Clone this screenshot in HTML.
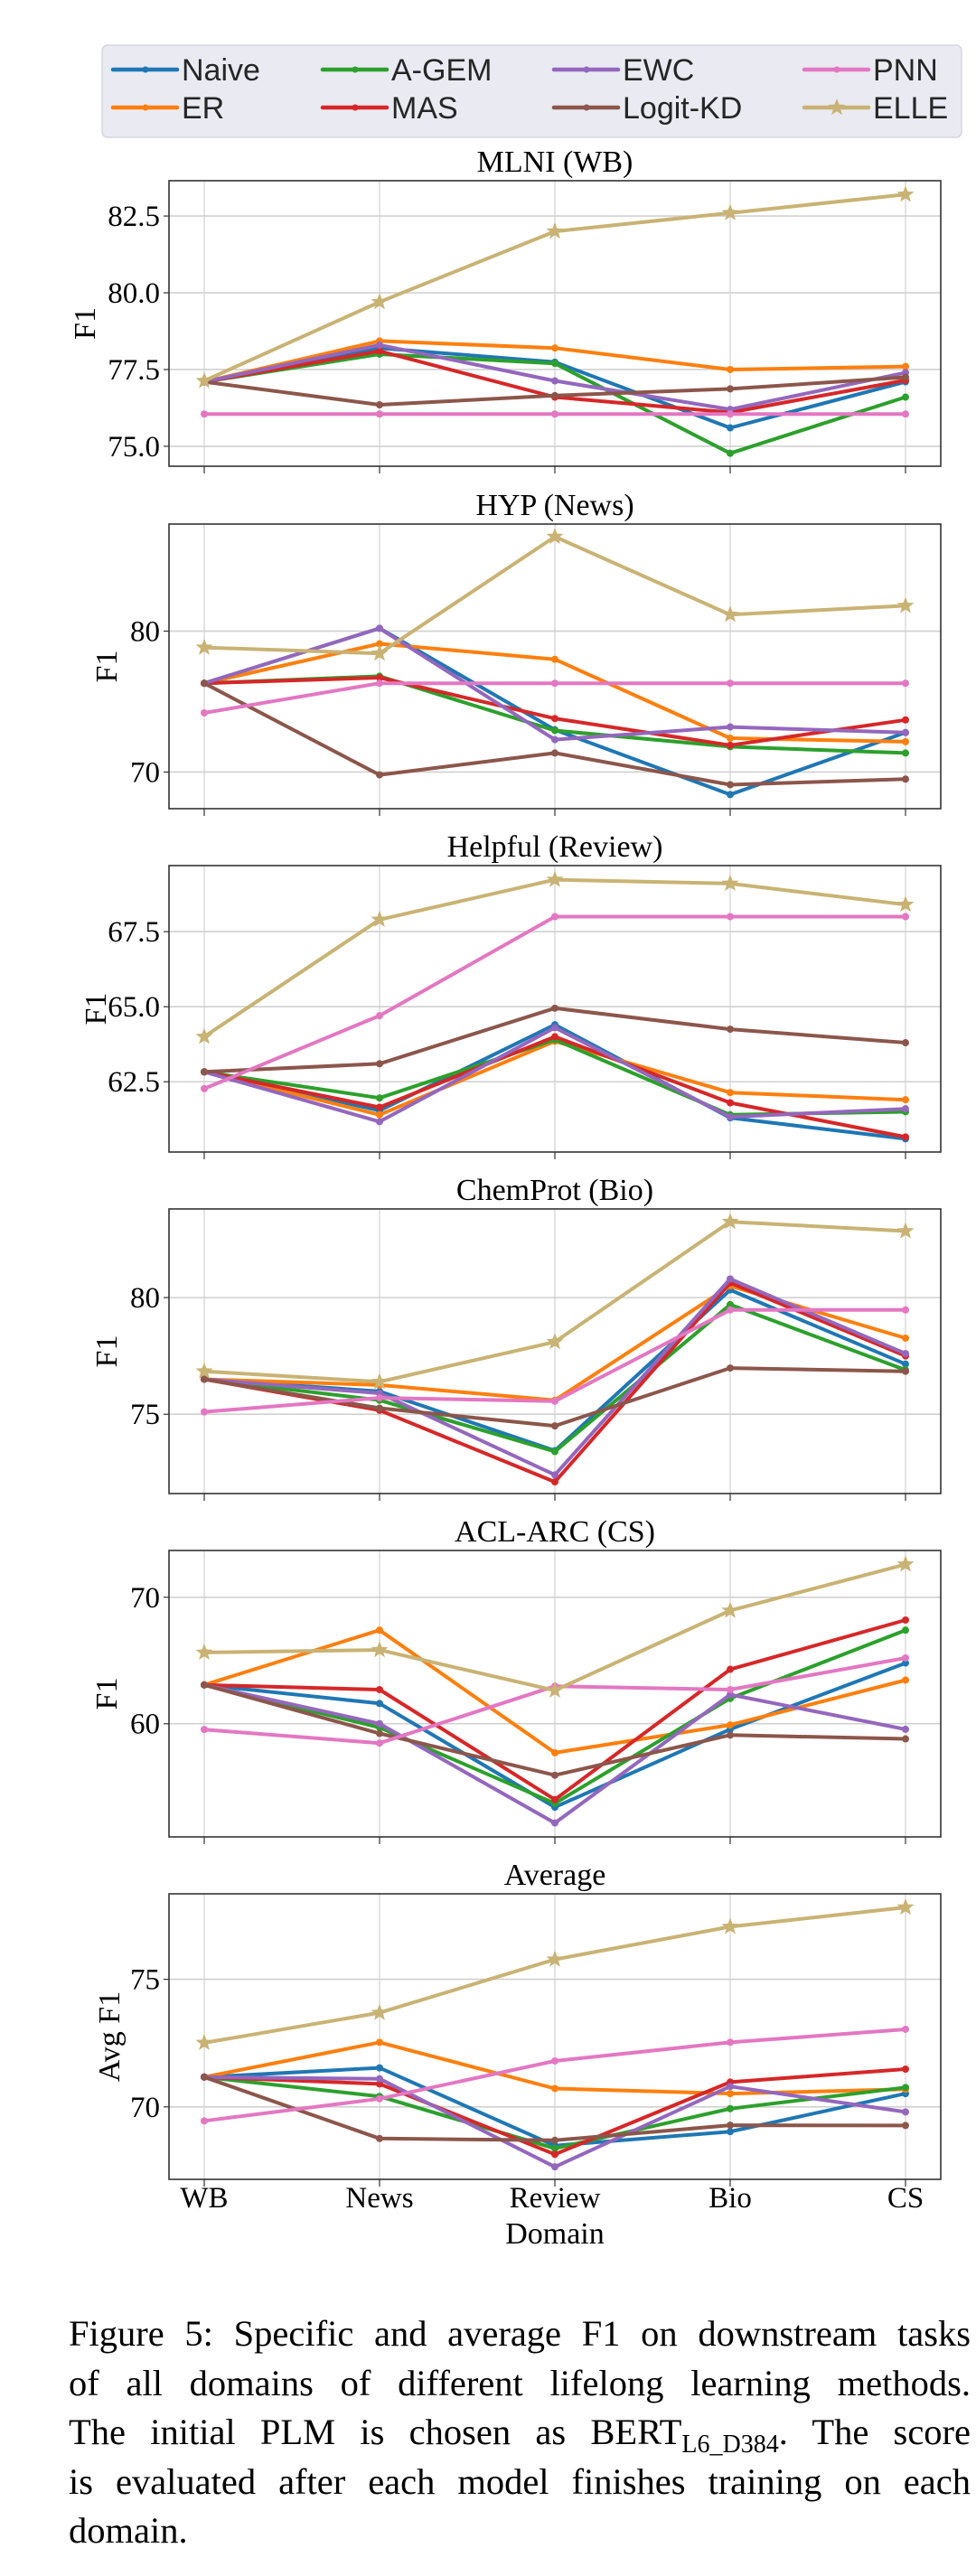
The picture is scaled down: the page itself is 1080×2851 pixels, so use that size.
<!DOCTYPE html>
<html><head><meta charset="utf-8">
<style>
html,body{margin:0;padding:0;background:#fff;}
body{width:1080px;height:2851px;position:relative;overflow:hidden;}
svg{position:absolute;left:0;top:0;}
#caption{position:absolute;left:76px;top:2556px;width:998px;font-family:"Liberation Serif",serif;font-size:40.5px;line-height:54.6px;color:#000;}
#caption .ln{text-align:justify;text-align-last:justify;white-space:nowrap;height:54.6px;}
#caption .ln.last{text-align-last:left;}
sub{font-size:28px;line-height:0;}
</style></head>
<body>
<svg id="chart" width="1080" height="2540" viewBox="0 0 1080 2540" xmlns="http://www.w3.org/2000/svg"></svg>
<div id="caption">
<div class="ln">Figure 5: Specific and average F1 on downstream tasks</div>
<div class="ln">of all domains of different lifelong learning methods.</div>
<div class="ln">The initial PLM is chosen as BERT<sub>L6_D384</sub>. The score</div>
<div class="ln">is evaluated after each model finishes training on each</div>
<div class="ln last">domain.</div>
</div>
<script>
const domains = ["WB","News","Review","Bio","CS"];
const methods = ["Naive","ER","A-GEM","MAS","EWC","Logit-KD","PNN","ELLE"];
const colors = ["#1f77b4","#ff7f0e","#2ca02c","#d62728","#9467bd","#8c564b","#e377c2","#c9b374"];
const panelTitles = ["MLNI (WB)","HYP (News)","Helpful (Review)","ChemProt (Bio)","ACL-ARC (CS)","Average"];
const panelTicks = [[75,77.5,80,82.5],[70,80],[62.5,65,67.5],[75,80],[60,70],[70,75]];
const panelTickLabels = [["75.0","77.5","80.0","82.5"],["70","80"],["62.5","65.0","67.5"],["75","80"],["60","70"],["70","75"]];
const panelRanges = [[74.35,83.65],[67.4,87.6],[60.16,69.7],[71.6,83.8],[51.05,73.7],[67.16,78.35]];
// values per method (order: Naive, ER, A-GEM, MAS, EWC, Logit-KD, PNN, ELLE)
const mlni = [
 [77.1,78.2,77.74,75.6,77.1],
 [77.1,78.43,78.2,77.5,77.6],
 [77.1,78.0,77.7,74.77,76.6],
 [77.1,78.1,76.6,76.1,77.15],
 [77.1,78.3,77.13,76.2,77.4],
 [77.1,76.35,76.65,76.87,77.25],
 [76.05,76.05,76.05,76.05,76.05],
 [77.13,79.7,82.0,82.6,83.2]];
const hyp = [
 [76.3,80.2,73.0,68.4,72.8],
 [76.3,79.1,78.0,72.4,72.15],
 [76.3,76.8,72.95,71.8,71.35],
 [76.3,76.7,73.8,71.9,73.7],
 [76.3,80.2,72.3,73.2,72.8],
 [76.3,69.8,71.35,69.1,69.5],
 [74.2,76.3,76.3,76.3,76.3],
 [78.84,78.42,86.7,81.17,81.8]];
const helpful = [
 [62.83,61.54,64.4,61.3,60.6],
 [62.83,61.4,63.85,62.14,61.9],
 [62.83,61.96,63.9,61.4,61.5],
 [62.83,61.65,64.0,61.8,60.66],
 [62.83,61.17,64.3,61.33,61.6],
 [62.83,63.1,64.95,64.25,63.8],
 [62.27,64.7,68.0,68.0,68.0],
 [64.0,67.9,69.23,69.1,68.4]];
const chemprot = [
 [76.5,75.98,73.44,80.33,77.15],
 [76.5,76.25,75.6,80.5,78.26],
 [76.5,75.6,73.4,79.7,76.9],
 [76.5,75.17,72.1,80.63,77.5],
 [76.5,75.9,72.4,80.8,77.6],
 [76.5,75.26,74.5,76.98,76.84],
 [75.1,75.7,75.56,79.47,79.47],
 [76.84,76.39,78.1,83.25,82.85]];
const aclarc = [
 [63.07,61.6,53.4,59.56,64.8],
 [63.07,67.4,57.7,59.9,63.45],
 [63.07,59.7,53.7,62.0,67.4],
 [63.07,62.7,54.0,64.3,68.2],
 [63.07,60.0,52.15,62.3,59.56],
 [63.07,59.23,55.93,59.1,58.8],
 [59.54,58.47,62.97,62.7,65.2],
 [65.63,65.83,62.63,68.95,72.6]];
const average = [
 [71.17,71.53,68.48,69.03,70.52],
 [71.17,72.53,70.72,70.52,70.69],
 [71.17,70.41,68.37,69.93,70.76],
 [71.17,70.9,68.14,70.97,71.48],
 [71.17,71.1,67.65,70.8,69.8],
 [71.17,68.76,68.69,69.28,69.27],
 [69.45,70.32,71.8,72.53,73.04],
 [72.51,73.69,75.78,77.06,77.82]];
const panelData = [mlni,hyp,helpful,chemprot,aclarc,average];

const NS="http://www.w3.org/2000/svg";
const svg=document.getElementById('chart');
function mk(tag,attrs,parent){const e=document.createElementNS(NS,tag);for(const k in attrs)e.setAttribute(k,attrs[k]);(parent||svg).appendChild(e);return e;}

const L=187,R=1041,X0=226,DX=194;
const panelTops=[200,580,958,1338,1716,2096];
const panelBottoms=[516,895,1275,1653,2033,2412];
const ylabelX=[93,117,105,117,117,120];
function xs(i){return X0+i*DX;}
function star(cx,cy,r){let p=[];for(let k=0;k<10;k++){const a=-Math.PI/2+k*Math.PI/5;const rr=k%2?r*0.42:r;p.push((cx+rr*Math.cos(a)).toFixed(1)+','+(cy+rr*Math.sin(a)).toFixed(1));}return p.join(' ');}

const lg=mk('g',{});


mk('rect',{x:113,y:50,width:951,height:102,rx:6,fill:'#eaeaf2',stroke:'#d6d6de','stroke-width':1.5},lg);
const colX=[125,357,613,890];const rowY=[77,119];
methods.forEach((m,i)=>{
  const c=Math.floor(i/2),r=i%2;
  const g=mk('g',{},lg);
  
  
  mk('line',{x1:colX[c],y1:rowY[r],x2:colX[c]+71,y2:rowY[r],stroke:colors[i],'stroke-width':4.5,'stroke-linecap':'round'},g);
  if(i===7) mk('polygon',{points:star(colX[c]+36,rowY[r],10),fill:colors[i]},g);
  else mk('circle',{cx:colX[c]+36,cy:rowY[r],r:3.5,fill:colors[i]},g);
  const t=mk('text',{x:colX[c]+76,y:rowY[r]+12,'font-family':'Liberation Sans, sans-serif','font-size':34,fill:'#262626'},g);
  t.textContent=m;
});

panelData.forEach((data,p)=>{
  const top=panelTops[p],bot=panelBottoms[p];
  const [ymin,ymax]=panelRanges[p];
  const ys=v=>bot-(v-ymin)/(ymax-ymin)*(bot-top);
  const g=mk('g',{});
  
  
  domains.forEach((d,i)=>{mk('line',{x1:xs(i),y1:top,x2:xs(i),y2:bot,stroke:'#c8c8c8','stroke-width':1},g);
    mk('line',{x1:xs(i),y1:bot,x2:xs(i),y2:bot+8,stroke:'#333','stroke-width':1.2},g);});
  panelTicks[p].forEach((v,k)=>{
    mk('line',{x1:L,y1:ys(v),x2:R,y2:ys(v),stroke:'#d0d0d0','stroke-width':1.6},g);
    mk('line',{x1:L-6,y1:ys(v),x2:L,y2:ys(v),stroke:'#333','stroke-width':1.2},g);
    const t=mk('text',{x:177,y:ys(v)+11,'text-anchor':'end','font-family':'Liberation Serif, serif','font-size':33,fill:'#000'},g);
    
    
    t.textContent=panelTickLabels[p][k];
  });
  const tt=mk('text',{x:614,y:top-10,'text-anchor':'middle','font-family':'Liberation Serif, serif','font-size':34,fill:'#000'},g);
  
  
  tt.textContent=panelTitles[p];
  const yl=mk('text',{x:0,y:0,transform:`translate(${ylabelX[p]+12},${(top+bot)/2}) rotate(-90)`,'text-anchor':'middle','font-family':'Liberation Serif, serif','font-size':34,fill:'#000'},g);
  
  
  yl.textContent=p===5?'Avg F1':'F1';
  data.forEach((vals,si)=>{
    const sg=mk('g',{},g);
    
    
    mk('polyline',{points:vals.map((v,i)=>xs(i)+','+ys(v).toFixed(1)).join(' '),fill:'none',stroke:colors[si],'stroke-width':4,'stroke-linejoin':'round'},sg);
    vals.forEach((v,i)=>{
      if(si===7) mk('polygon',{points:star(xs(i),ys(v),10),fill:colors[si]},sg);
      else mk('circle',{cx:xs(i),cy:ys(v),r:4,fill:colors[si]},sg);
    });
  });
  mk('rect',{x:L,y:top,width:R-L,height:bot-top,fill:'none',stroke:'#333','stroke-width':1.6},g);
  if(p===5){
    domains.forEach((d,i)=>{const t=mk('text',{x:xs(i),y:bot+31,'text-anchor':'middle','font-family':'Liberation Serif, serif','font-size':33,fill:'#000'},g);
      
      
      t.textContent=d;});
    const xt=mk('text',{x:614,y:bot+71,'text-anchor':'middle','font-family':'Liberation Serif, serif','font-size':34,fill:'#000'},g);
    
    
    xt.textContent='Domain';
  }
});
</script>
</body></html>
